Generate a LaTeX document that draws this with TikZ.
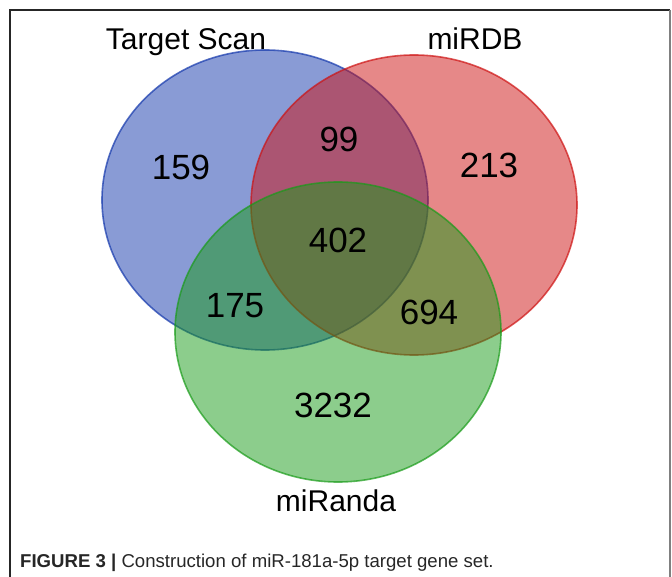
\documentclass[tikz,border=0pt]{standalone}
\usepackage{fontspec}
\setmainfont{Liberation Sans}
\usetikzlibrary{shapes.geometric}
\definecolor{tsblue}{RGB}{19,55,171}
\definecolor{dbred}{RGB}{205,17,17}
\definecolor{rdgreen}{RGB}{25,155,25}

\begin{document}
\begin{tikzpicture}[
    x=1pt, y=-1pt,
    set/.style={ellipse, draw, line width=1.6pt, minimum width=326pt, minimum height=300pt, inner sep=0pt, outer sep=0pt, fill opacity=0.5, draw opacity=0.7},
    count/.style={font=\fontsize{35}{40}\selectfont, inner sep=0pt},
    setname/.style={font=\fontsize{30}{35}\selectfont, inner sep=0pt, anchor=base}
]
\useasboundingbox (0,0) rectangle (672,577);
\draw[line width=1.5pt, black!85] (10,577) -- (10,10) -- (670,10);
\draw[line width=1.5pt, black!50] (670,10) -- (670,577);
\node (targetscan) [set, fill=tsblue, draw=tsblue] at (265,200) {};
\node (mirdb) [set, fill=dbred, draw=dbred] at (414,205) {};
\node (miranda) [set, fill=rdgreen, draw=rdgreen] at (338,332) {};
\node (targetscan_name) [setname] at (186,50) {Target Scan};
\node (mirdb_name) [setname] at (475,50) {miRDB};
\node (miranda_name) [setname] at (336,511) {miRanda};
\node (only_ts) [count] at (181,167) {159};
\node (ts_db) [count] at (339,139) {99};
\node (only_db) [count] at (489,165) {213};
\node (all_three) [count] at (338,240) {402};
\node (ts_rd) [count] at (235,306) {175};
\node (db_rd) [count] at (429,312) {694};
\node (only_rd) [count] at (333,405) {3232};
\node (caption) [anchor=base west, inner sep=0pt, text=black!85, font=\fontsize{18.6}{22}\selectfont] at (20,567) {\textbf{FIGURE 3 |} Construction of miR-181a-5p target gene set.};
\end{tikzpicture}
\end{document}
